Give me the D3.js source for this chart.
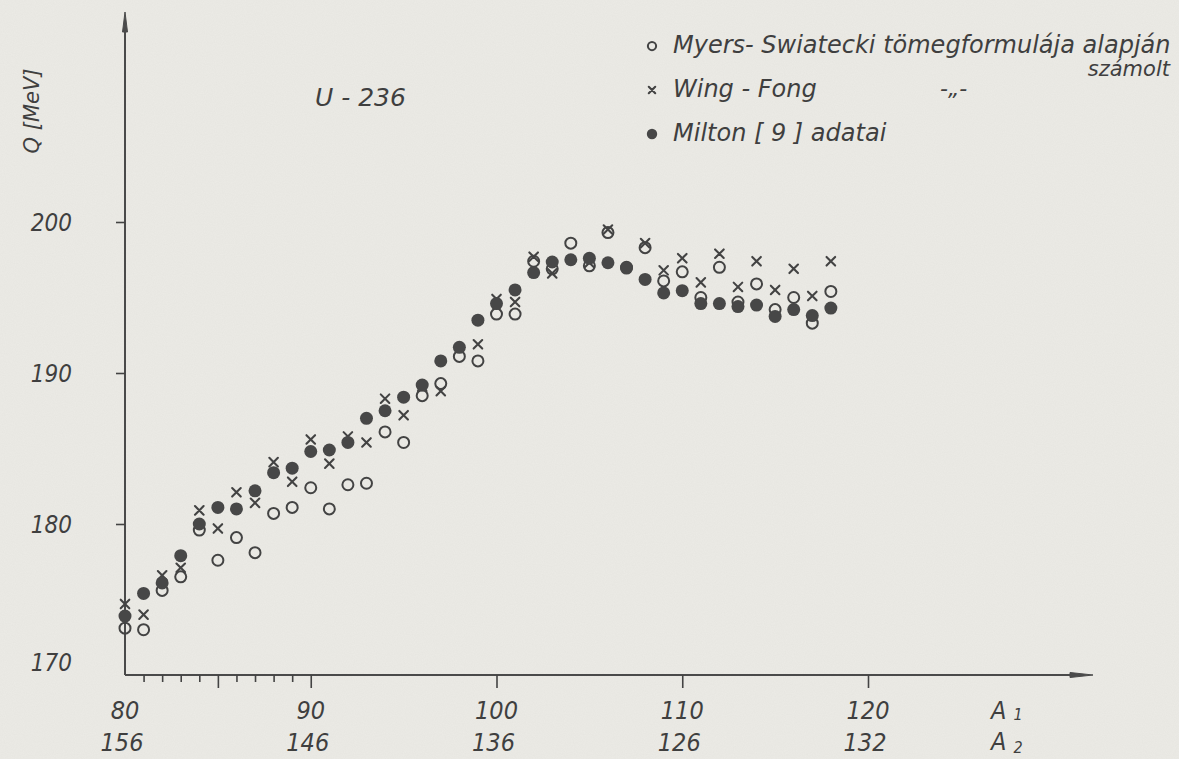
<!DOCTYPE html>
<html>
<head>
<meta charset="utf-8">
<script src="https://cdn.jsdelivr.net/npm/d3@7"></script>
<style>
    html, body { margin: 0; padding: 0; background: #ecebe6; }
    svg { display: block; }
    text {
        font-family: "DejaVu Sans Condensed", "DejaVu Sans", sans-serif;
        font-stretch: condensed;
        font-style: italic;
        fill: #3f3f3f;
    }
    text.wide {
        font-family: "DejaVu Sans", sans-serif;
        font-stretch: normal;
    }
</style>
</head>
<body>
<svg width="1179" height="759"></svg>
<script>
const a1 = [80, 81, 82, 83, 84, 85, 86, 87, 88, 89,
            90, 91, 92, 93, 94, 95, 96, 97, 98, 99,
            100, 101, 102, 103, 104, 105, 106, 107, 108, 109,
            110, 111, 112, 113, 114, 115, 116, 117, 118]

const myers = [173.1, 173.0, 175.6, 176.5, 179.6, 177.6, 179.1, 178.1, 180.7, 181.1,
               182.4, 181.0, 182.6, 182.7, 186.1, 185.4, 188.5, 189.3, 191.1, 190.8,
               193.9, 193.9, 197.4, 196.9, 198.6, 197.1, 199.3, 197.0, 198.3, 196.1,
               196.7, 195.0, 197.0, 194.7, 195.9, 194.2, 195.0, 193.3, 195.4]

const wingFong = [174.7, 174.0, 176.6, 177.1, 180.9, 179.7, 182.1, 181.4, 184.1, 182.8,
                  185.6, 184.0, 185.8, 185.4, 188.3, 187.2, 189.1, 188.8, null, 191.9,
                  194.9, 194.7, 197.7, 196.6, null, 197.3, 199.5, null, 198.6, 196.8,
                  197.6, 196.0, 197.9, 195.7, 197.4, 195.5, 196.9, 195.1, 197.4]

const milton = [173.9, 175.4, 176.1, 177.9, 180.0, 181.1, 181.0, 182.2, 183.4, 183.7,
                184.8, 184.9, 185.4, 187.0, 187.5, 188.4, 189.2, 190.8, 191.7, 193.5,
                194.6, 195.5, 196.65, 197.35, 197.5, 197.6, 197.3, 196.95, 196.2, 195.3,
                195.45, 194.6, 194.6, 194.4, 194.5, 193.75, 194.2, 193.8, 194.3]

const majorTicks = [85, 90, 100, 110, 120]
const minorTicks = [81, 82, 83, 84, 86, 87, 88, 89]
const a1Labels = ['80', '90', '100', '110', '120']
const a2Labels = ['156', '146', '136', '126', '132']
const labelAt = [80, 90, 100, 110, 120]
const yTicks = [170, 180, 190, 200]

const legendLabels = ['Myers- Swiatecki tömegformulája alapján', 'Wing - Fong', 'Milton [ 9 ] adatai']
const legendKinds = ['open', 'cross', 'filled']

;(function() {
    const svg = d3.select('svg')
    const ink = '#434343'

    // a bit of paper grain
    const defs = svg.append('defs')
    const grain = defs.append('filter').attr('id', 'grain')
    grain.append('feTurbulence')
        .attr('type', 'fractalNoise')
        .attr('baseFrequency', 0.9)
        .attr('numOctaves', 2)
        .attr('seed', 3)
    grain.append('feColorMatrix')
        .attr('type', 'matrix')
        .attr('values', '0 0 0 0 0.45  0 0 0 0 0.45  0 0 0 0 0.42  0 0 0 0.10 0')

    svg.append('rect').attr('width', 1179).attr('height', 759).attr('fill', '#ecebe6')
    svg.append('rect').attr('width', 1179).attr('height', 759).attr('filter', 'url(#grain)')

    const x = d3.scaleLinear().domain([80, 120]).range([125, 868])
    const y = d3.scaleLinear().domain([170, 200]).range([675, 222])

    // axes lines with arrow heads
    const axes = svg.append('g').attr('stroke', '#4a4a4a').attr('fill', '#4a4a4a')
    axes.append('line')
        .attr('x1', x(80)).attr('y1', y(170))
        .attr('x2', 1080).attr('y2', y(170))
        .attr('stroke-width', 1.8)
    axes.append('path')
        .attr('d', `M1070,${y(170) - 2.5} L1093,${y(170)} L1070,${y(170) + 2.5} Z`)
        .attr('stroke-width', 1)
    axes.append('line')
        .attr('x1', x(80)).attr('y1', y(170))
        .attr('x2', x(80)).attr('y2', 24)
        .attr('stroke-width', 2)
    axes.append('path')
        .attr('d', `M${x(80) - 2.5},32 L${x(80)},12 L${x(80) + 2.5},32 Z`)
        .attr('stroke-width', 1)

    const tickStyle = g => {
        g.select('.domain').remove()
        g.selectAll('line').attr('stroke', ink).attr('stroke-width', 1.6)
    }

    svg.append('g')
        .attr('transform', `translate(0,${y(170)})`)
        .call(d3.axisBottom(x).tickValues(majorTicks).tickSize(13).tickFormat(''))
        .call(tickStyle)

    svg.append('g')
        .attr('transform', `translate(0,${y(170)})`)
        .call(d3.axisBottom(x).tickValues(minorTicks).tickSize(7).tickFormat(''))
        .call(tickStyle)

    const yAxis = svg.append('g')
        .attr('transform', `translate(${x(80)},0)`)
        .call(d3.axisLeft(y).tickValues(yTicks).tickSize(9).tickPadding(44).tickFormat(d3.format('d')))
        .call(tickStyle)
    yAxis.selectAll('.tick line').filter(d => d === 170).remove()
    yAxis.selectAll('text')
        .attr('font-size', 24)
        .attr('font-family', null)
        .style('font-style', 'italic')
        .attr('fill', '#3f3f3f')
        .attr('dy', d => d === 170 ? '-0.2em' : '0.35em')

    // two rows of x labels
    const xl = svg.append('g').attr('font-size', 25).attr('text-anchor', 'middle')
    xl.selectAll('text.a1')
        .data(labelAt)
        .enter()
        .append('text')
        .attr('class', 'a1')
        .attr('x', d => x(d))
        .attr('y', 719)
        .text((d, i) => a1Labels[i])
    xl.selectAll('text.a2')
        .data(labelAt)
        .enter()
        .append('text')
        .attr('class', 'a2')
        .attr('x', (d, i) => x(d) - 3)
        .attr('y', 751)
        .text((d, i) => a2Labels[i])

    const subLabel = (yy, sub, dy) => {
        const t = svg.append('text').attr('x', 991).attr('y', yy).attr('font-size', 25)
        t.append('tspan').text('A')
        t.append('tspan').attr('font-size', 16).attr('dx', 7).attr('dy', dy).text(sub)
    }
    subLabel(719, '1', 1)
    subLabel(750, '2', 3)

    // y title and chart title
    svg.append('text')
        .attr('class', 'wide')
        .attr('transform', 'translate(39,111) rotate(-90)')
        .attr('text-anchor', 'middle')
        .attr('font-size', 21)
        .text('Q [MeV]')

    svg.append('text')
        .attr('class', 'wide')
        .attr('x', 315).attr('y', 106)
        .attr('font-size', 25)
        .text('U - 236')

    // data points: open, crosses, then filled on top
    const pts = svg.append('g')

    const drawSeries = (vals, kind, g) => {
        const data = a1.map((a, i) => ({ a: a, q: vals[i] })).filter(d => d.q !== null)
        const sel = g.selectAll('g.' + kind)
            .data(data)
            .enter()
            .append('g')
            .attr('class', kind)
            .attr('transform', d => `translate(${x(d.a)},${y(d.q)})`)
        marker(sel, kind, 1)
    }

    function marker(sel, kind, s) {
        if (kind === 'open') {
            sel.append('circle')
                .attr('r', 5.5 * s)
                .attr('fill', 'none')
                .attr('stroke', ink)
                .attr('stroke-width', 2)
        } else if (kind === 'cross') {
            const h = 4.3 * s
            sel.append('path')
                .attr('d', `M${-h},${-h}L${h},${h}M${-h},${h}L${h},${-h}`)
                .attr('stroke', ink)
                .attr('stroke-width', 2.1)
                .attr('stroke-linecap', 'round')
        } else {
            sel.append('circle')
                .attr('r', 6.5 * s)
                .attr('fill', '#474747')
        }
    }

    drawSeries(myers, 'open', pts)
    drawSeries(wingFong, 'cross', pts)
    drawSeries(milton, 'filled', pts)

    // legend
    const legend = svg.append('g')
    const rows = legend.selectAll('g.row')
        .data(legendLabels)
        .enter()
        .append('g')
        .attr('class', 'row')
        .attr('transform', (d, i) => `translate(652,${46 + i * 44})`)
    rows.each(function(d, i) {
        marker(d3.select(this), legendKinds[i], i === 2 ? 0.8 : 0.75)
    })
    rows.append('text')
        .attr('class', 'wide')
        .attr('x', 21)
        .attr('y', 7)
        .attr('font-size', 24)
        .text(d => d)

    legend.append('text')
        .attr('class', 'wide')
        .attr('x', 1170).attr('y', 76)
        .attr('text-anchor', 'end')
        .attr('font-size', 21)
        .text('számolt')
    legend.append('text')
        .attr('class', 'wide')
        .attr('x', 940).attr('y', 96)
        .attr('font-size', 22)
        .text('-\u201E-')
})()
</script>
</body>
</html>
